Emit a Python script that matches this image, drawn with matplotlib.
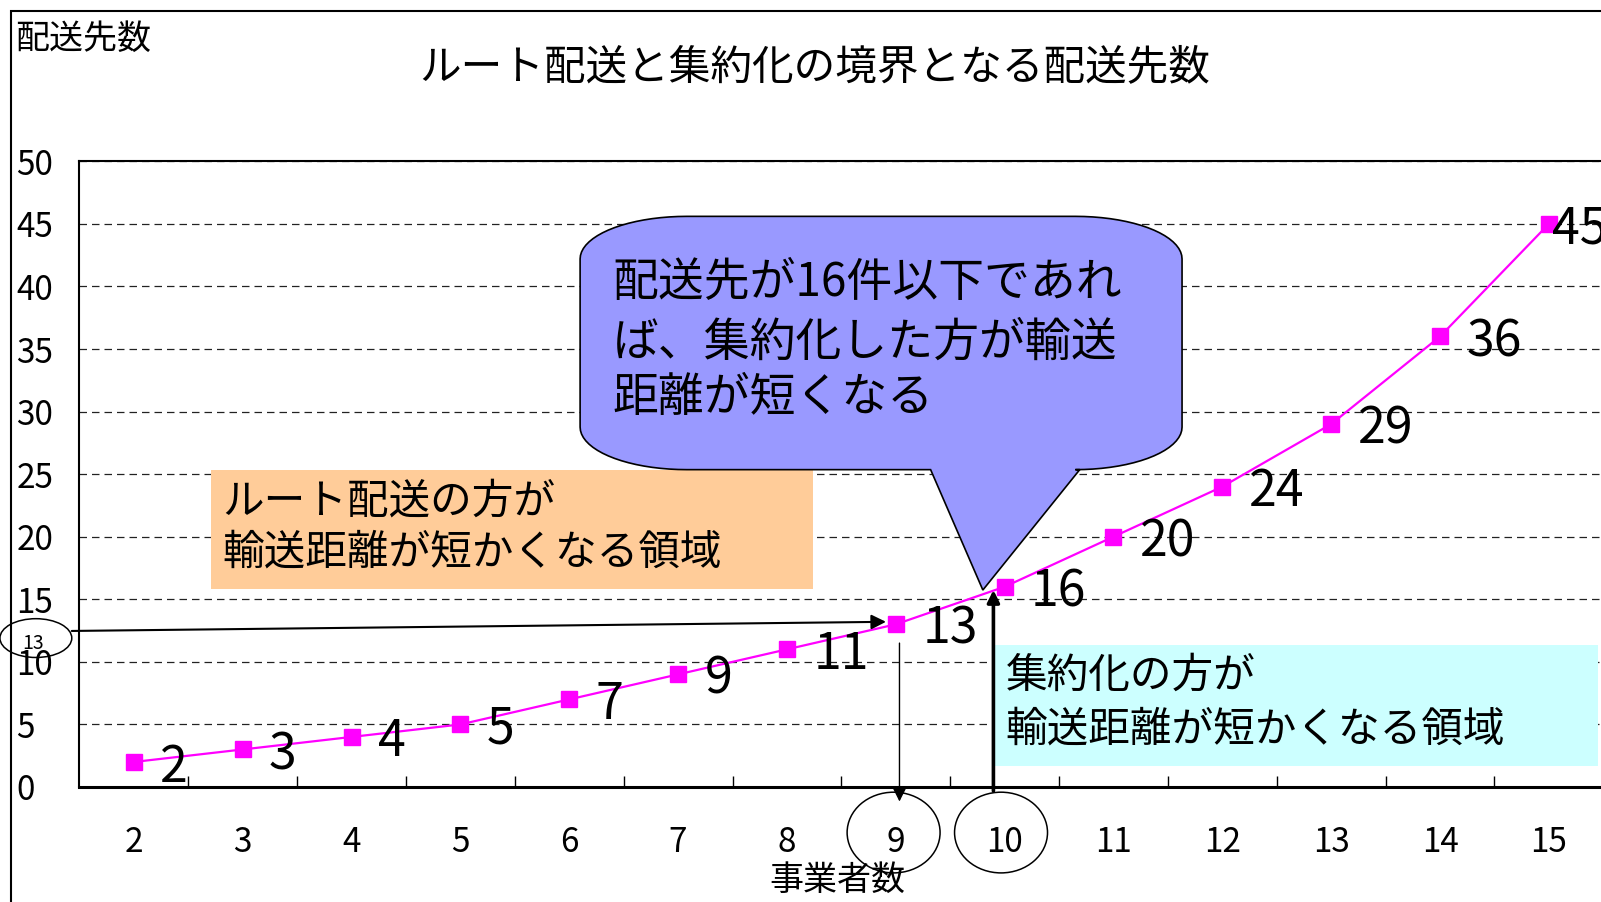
import numpy as np
import matplotlib
matplotlib.use("Agg")
import matplotlib.pyplot as plt
from matplotlib.patches import Polygon, Rectangle, Ellipse

plt.rcParams["font.family"] = ["Noto Sans CJK JP", "DejaVu Sans"]

# ---------- data ----------
operators = [2, 3, 4, 5, 6, 7, 8, 9, 10, 11, 12, 13, 14, 15]
destinations = [2, 3, 4, 5, 7, 9, 11, 13, 16, 20, 24, 29, 36, 45]
y_ticks = [0, 5, 10, 15, 20, 25, 30, 35, 40, 45, 50]

title = "ルート配送と集約化の境界となる配送先数"
x_label = "事業者数"
y_label = "配送先数"
callout_lines = ["配送先が16件以下であれ", "ば、集約化した方が輸送", "距離が短くなる"]
route_lines = ["ルート配送の方が", "輸送距離が短かくなる領域"]
consol_lines = ["集約化の方が", "輸送距離が短かくなる領域"]

MAGENTA = "#FF00FF"

W, H = 1601, 902
fig = plt.figure(figsize=(W / 100, H / 100), dpi=100)
fig.add_artist(Rectangle((11 / W, -0.5), 2, 0.9878 + 0.5, transform=fig.transFigure,
                         fill=False, ec="black", lw=1.5))
ax = fig.add_axes([79.4 / W, 1 - 787 / H, (1603.3 - 79.4) / W, (787 - 161.3) / H])

ax.set_xlim(1.5, 15.5)
ax.set_ylim(0, 50)
ax.set_axisbelow(True)

# axes frame / ticks
for s in ["top", "left"]:
    ax.spines[s].set_linewidth(1.5)
ax.spines["bottom"].set_linewidth(2.2)
ax.spines["right"].set_visible(False)
ax.set_xticks(operators)
ax.set_xticks([o + 0.5 for o in operators[:-1]], minor=True)
ax.set_yticks(y_ticks)
ax.tick_params(axis="x", which="major", length=0, labelsize=24, pad=27)
ax.tick_params(axis="x", which="minor", direction="in", length=8, width=1)
ax.tick_params(axis="y", length=0, labelsize=24, pad=45.5)
for lab in ax.get_yticklabels():
    lab.set_horizontalalignment("left")
ax.yaxis.grid(True, linestyle=(0, (6, 4)), color="#222222", lw=0.9)

# region boxes
ax.add_patch(Rectangle((2.71, 15.81), 8.24 - 2.71, 25.36 - 15.81, fc="#FFCC99", ec="none", zorder=1))
ax.add_patch(Rectangle((9.916, 1.69), 15.45 - 9.916, 11.32 - 1.69, fc="#CCFFFF", ec="none", zorder=1))
for txt, yy in zip(route_lines, [22.77, 18.7]):
    ax.text(2.816, yy, txt, fontsize=30, ha="left", va="center", zorder=2)
for txt, yy in zip(consol_lines, [8.87, 4.55]):
    ax.text(10.01, yy, txt, fontsize=30, ha="left", va="center", zorder=2)

# callout with rounded corners and a wedge
x0, x1, y0, y1 = 6.10, 11.63, 25.36, 45.6
rx, ry = 0.98, 3.4
def arc(cx, cy, a0, a1):
    t = np.radians(np.linspace(a0, a1, 20))
    return list(zip(cx + rx * np.cos(t), cy + ry * np.sin(t)))
pts = []
pts += arc(x0 + rx, y1 - ry, 90, 180)
pts += arc(x0 + rx, y0 + ry, 180, 270)
pts += [(9.32, y0), (9.80, 15.74), (10.69, y0)]
pts += arc(x1 - rx, y0 + ry, 270, 360)
pts += arc(x1 - rx, y1 - ry, 0, 90)
ax.add_patch(Polygon(pts, closed=True, fc="#9999FF", ec="black", lw=1.2, zorder=2))
for txt, yy in zip(callout_lines, [40.27, 35.55, 31.07]):
    ax.text(6.40, yy, txt, fontsize=33, ha="left", va="center", zorder=3)

# series
ax.plot(operators, destinations, color=MAGENTA, lw=1.6, marker="s", ms=11,
        mfc=MAGENTA, mec=MAGENTA, zorder=4)
for i, (x, v) in enumerate(zip(operators, destinations)):
    dx = 2 if i == len(operators) - 1 else 19
    ax.annotate(str(v), (x, v), xytext=(dx, -4), textcoords="offset points",
                ha="left", va="center", fontsize=36, zorder=5)

# arrows and circles
ax.annotate("", xy=(8.91, 13.2), xytext=(1.43, 12.47), annotation_clip=False,
            arrowprops=dict(arrowstyle="-|>", color="black", lw=1.5, mutation_scale=22,
                            shrinkA=0, shrinkB=0), zorder=6)
ax.annotate("", xy=(9.034, -1.16), xytext=(9.034, 11.5), annotation_clip=False,
            arrowprops=dict(arrowstyle="-|>", color="black", lw=1.0, mutation_scale=20,
                            shrinkA=0, shrinkB=0), zorder=6)
ax.annotate("", xy=(9.897, 15.74), xytext=(9.897, -0.32), annotation_clip=False,
            arrowprops=dict(arrowstyle="-|>", color="black", lw=2.6, mutation_scale=18,
                            shrinkA=0, shrinkB=0), zorder=6)
for cx in [8.98, 9.967]:
    ax.add_patch(Ellipse((cx, -3.64), 0.854, 6.45, fill=False, ec="black", lw=1.1, clip_on=False))
ax.add_patch(Ellipse((1.10, 11.9), 0.66, 3.1, fill=False, ec="black", lw=1.1, clip_on=False))
ax.text(1.074, 11.5, "13", fontsize=14, ha="center", va="center", clip_on=False)

# titles
fig.text(815 / W, 1 - 68 / H, title, fontsize=30, ha="center", va="center")
fig.text(15.3 / W, 1 - 39.5 / H, y_label, fontsize=24.5, ha="left", va="center")
fig.text(837 / W, 1 - 880 / H, x_label, fontsize=24.5, ha="center", va="center")

fig.savefig("out.png", dpi=100)
